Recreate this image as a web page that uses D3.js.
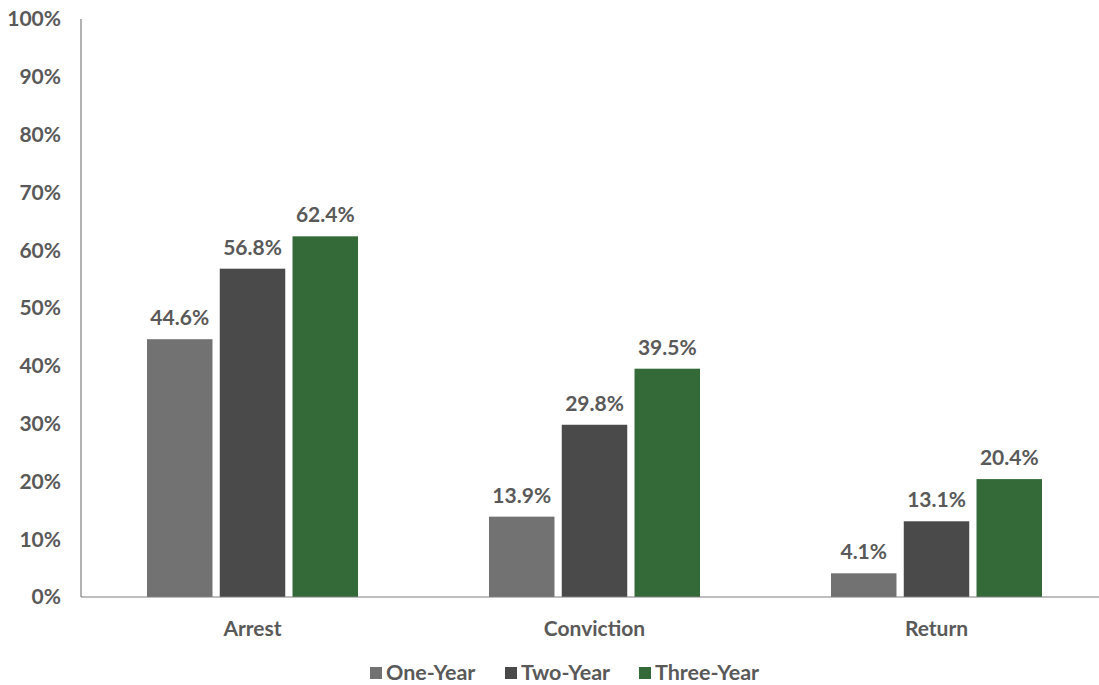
<!DOCTYPE html>
<html>
<head>
<meta charset="utf-8">
<script src="https://cdn.jsdelivr.net/npm/d3@7"></script>
<style>
  body { margin: 0; background: #fff; }
  text { font-family: Lato, "Open Sans", sans-serif; font-weight: bold; fill: #595959; }
</style>
</head>
<body>
<div id="chart"></div>
<script>
const categories = ['Arrest', 'Conviction', 'Return'];
const seriesNames = ['One-Year', 'Two-Year', 'Three-Year'];
const oneYear = [44.6, 13.9, 4.1];
const twoYear = [56.8, 29.8, 13.1];
const threeYear = [62.4, 39.5, 20.4];
const yTicks = [0, 10, 20, 30, 40, 50, 60, 70, 80, 90, 100];
const colors = ['#727272', '#4a4a4a', '#336a38'];

const width = 1099, height = 685;
const plot = { left: 81, right: 1107, top: 19, bottom: 597 };

const svg = d3.select('#chart').append('svg')
  .attr('width', width)
  .attr('height', height);

const x0 = d3.scaleBand()
  .domain(categories)
  .range([plot.left, plot.right]);

const x1 = d3.scaleBand()
  .domain(seriesNames)
  .range([66, 277])
  .paddingInner(0.1);

const y = d3.scaleLinear()
  .domain([0, 100])
  .range([plot.bottom, plot.top]);

const color = d3.scaleOrdinal().domain(seriesNames).range(colors);

const values = [oneYear, twoYear, threeYear];
const rows = [];
categories.forEach((c, i) => {
  seriesNames.forEach((s, j) => {
    rows.push({ cat: c, series: s, value: values[j][i] });
  });
});

// y tick labels
svg.append('g').selectAll('text')
  .data(yTicks)
  .join('text')
    .attr('x', 61)
    .attr('y', d => y(d))
    .attr('dy', '0.35em')
    .attr('text-anchor', 'end')
    .style('font-size', '21px')
    .text(d => d + '%');

// bars
svg.append('g').selectAll('rect')
  .data(rows)
  .join('rect')
    .attr('x', d => x0(d.cat) + x1(d.series))
    .attr('y', d => y(d.value))
    .attr('width', x1.bandwidth())
    .attr('height', d => y(0) - y(d.value))
    .attr('fill', d => color(d.series));

// value labels
svg.append('g').selectAll('text')
  .data(rows)
  .join('text')
    .attr('x', d => x0(d.cat) + x1(d.series) + x1.bandwidth() / 2)
    .attr('y', d => y(d.value) - 14)
    .attr('text-anchor', 'middle')
    .style('font-size', '21px')
    .text(d => d.value.toFixed(1) + '%');

// axes lines
svg.append('line')
  .attr('x1', plot.left).attr('x2', plot.left)
  .attr('y1', plot.top).attr('y2', plot.bottom)
  .attr('stroke', '#7f7f7f').attr('stroke-width', 1.2);
svg.append('line')
  .attr('x1', plot.left).attr('x2', width)
  .attr('y1', plot.bottom).attr('y2', plot.bottom)
  .attr('stroke', '#7f7f7f').attr('stroke-width', 1.2);

// category labels
svg.append('g').selectAll('text')
  .data(categories)
  .join('text')
    .attr('x', d => x0(d) + x1(seriesNames[1]) + x1.bandwidth() / 2)
    .attr('y', 636)
    .attr('text-anchor', 'middle')
    .style('font-size', '21px')
    .text(d => d);

// legend
const legendX = [370, 505, 639];
const legend = svg.append('g').selectAll('g')
  .data(seriesNames)
  .join('g')
    .attr('transform', (d, i) => `translate(${legendX[i]},673)`);
legend.append('rect')
  .attr('x', 0).attr('y', -6)
  .attr('width', 12).attr('height', 12)
  .attr('fill', d => color(d));
legend.append('text')
  .attr('x', 16)
  .attr('y', 7)
  .style('font-size', '21.5px')
  .text(d => d);
</script>
</body>
</html>
